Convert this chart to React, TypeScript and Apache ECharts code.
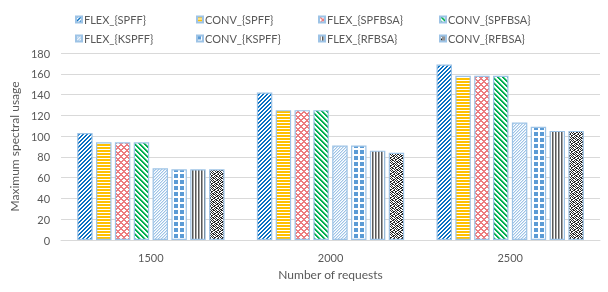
import React, { useEffect, useRef } from "react";
import * as echarts from "echarts";

const categories = ["1500", "2000", "2500"];
const seriesNames = [
  "FLEX_{SPFF}",
  "CONV_{SPFF}",
  "FLEX_{SPFBSA}",
  "CONV_{SPFBSA}",
  "FLEX_{KSPFF}",
  "CONV_{KSPFF}",
  "FLEX_{RFBSA}",
  "CONV_{RFBSA}",
];
const flexSPFF = [103, 142, 169];
const convSPFF = [94, 125, 158];
const flexSPFBSA = [94, 125, 158];
const convSPFBSA = [94, 125, 158];
const flexKSPFF = [69, 91, 113];
const convKSPFF = [68, 91, 109];
const flexRFBSA = [68, 86, 105];
const convRFBSA = [68, 84, 105];
const seriesValues = [flexSPFF, convSPFF, flexSPFBSA, convSPFBSA, flexKSPFF, convKSPFF, flexRFBSA, convRFBSA];
const yTicks = [0, 20, 40, 60, 80, 100, 120, 140, 160, 180];

const FONT = "Lato, 'Liberation Sans', sans-serif";
const TEXT = "#595959";

function hexToRgb(h: string) {
  const v = h.replace("#", "");
  return [parseInt(v.slice(0, 2), 16), parseInt(v.slice(2, 4), 16), parseInt(v.slice(4, 6), 16)];
}

function makeTile(w: number, h: number, fn: (x: number, y: number) => string | null) {
  const c = document.createElement("canvas");
  c.width = w;
  c.height = h;
  const ctx = c.getContext("2d")!;
  const img = ctx.createImageData(w, h);
  for (let y = 0; y < h; y++) {
    for (let x = 0; x < w; x++) {
      const col = fn(x, y) || "#ffffff";
      const [r, g, b] = hexToRgb(col);
      const i = (y * w + x) * 4;
      img.data[i] = r;
      img.data[i + 1] = g;
      img.data[i + 2] = b;
      img.data[i + 3] = 255;
    }
  }
  ctx.putImageData(img, 0, 0);
  return { image: c, repeat: "repeat", imageWidth: w, imageHeight: h } as any;
}

const confetti = [
  "11010010",
  "00101101",
  "10010110",
  "01101001",
  "11010100",
  "00101011",
  "01100110",
  "10011001",
];

function buildPatterns() {
  return [
    makeTile(4, 4, (x, y) => ((x + y) % 4 < 2 ? "#0a70c2" : null)),
    makeTile(3, 3, (x, y) => (y % 3 < 2 ? "#ffc000" : null)),
    makeTile(6, 6, (x, y) => {
      const a = (x + y) % 6;
      const b = (x - y + 6) % 6;
      return a < 2 || b < 2 ? "#ec7c7f" : null;
    }),
    makeTile(5, 5, (x, y) => {
      const d = (x - y + 5) % 5;
      return d < 2 ? "#00b050" : d === 2 ? "#8fd8b0" : null;
    }),
    makeTile(3, 3, (x, y) => ((x + y) % 3 === 0 ? "#9dc3e6" : (x + y) % 3 === 1 ? "#d6e6f5" : null)),
    makeTile(6, 6, (x, y) => (x % 6 < 4 && y % 6 < 4 ? "#5b9bd5" : null)),
    makeTile(3, 3, (x) => (x % 3 === 0 ? "#595959" : x % 3 === 1 ? "#a6a6a6" : null)),
    makeTile(8, 8, (x, y) => (confetti[y][x] === "1" ? "#262626" : null)),
  ];
}

const legendCols = [75, 196, 318, 439];
const legendRows = [14, 33];

export default function App() {
  const ref = useRef<HTMLDivElement>(null);
  useEffect(() => {
    if (!ref.current) return;
    const chart = echarts.init(ref.current, undefined, { renderer: "svg" });
    const patterns = buildPatterns();
    const legends = seriesNames.map((name, i) => ({
      data: [name],
      left: legendCols[i % 4],
      top: legendRows[Math.floor(i / 4)],
      icon: "rect",
      itemWidth: 6,
      itemHeight: 6,
      selectedMode: false,
      padding: 0,
      textStyle: { fontSize: 11, color: TEXT, fontFamily: FONT, padding: [0, 0, 0, -3] },
    }));
    chart.setOption({
      animation: false,
      textStyle: { fontFamily: FONT },
      legend: legends,
      grid: { left: 58, right: 8, top: 53, bottom: 52, containLabel: false },
      xAxis: {
        type: "category",
        data: categories,
        axisLine: { lineStyle: { color: "#d9d9d9", width: 1 } },
        axisTick: { show: false },
        axisLabel: { fontSize: 11, color: TEXT, margin: 12, fontFamily: FONT },
        name: "Number of requests",
        nameLocation: "middle",
        nameGap: 28,
        nameTextStyle: { fontSize: 12, color: TEXT, fontFamily: FONT },
      },
      yAxis: {
        type: "value",
        min: yTicks[0],
        max: yTicks[yTicks.length - 1],
        interval: 20,
        axisLine: { show: false },
        axisTick: { show: false },
        splitLine: { lineStyle: { color: "#d9d9d9", width: 1 } },
        axisLabel: { fontSize: 11, color: TEXT, margin: 11, fontFamily: FONT },
        name: "Maximum spectral usage",
        nameLocation: "middle",
        nameGap: 28,
        nameTextStyle: { fontSize: 12, color: TEXT, fontFamily: FONT },
      },
      series: seriesNames.map((name, i) => ({
        name,
        type: "bar",
        data: seriesValues[i],
        barGap: "22%",
        barCategoryGap: "18%",
        itemStyle: { color: patterns[i], borderColor: "#9dc3e6", borderWidth: 1.2 },
      })),
    });
    return () => chart.dispose();
  }, []);
  return (
    <div
      ref={ref}
      style={{ position: "fixed", left: 0, top: 0, width: 608, height: 292 }}
    />
  );
}
